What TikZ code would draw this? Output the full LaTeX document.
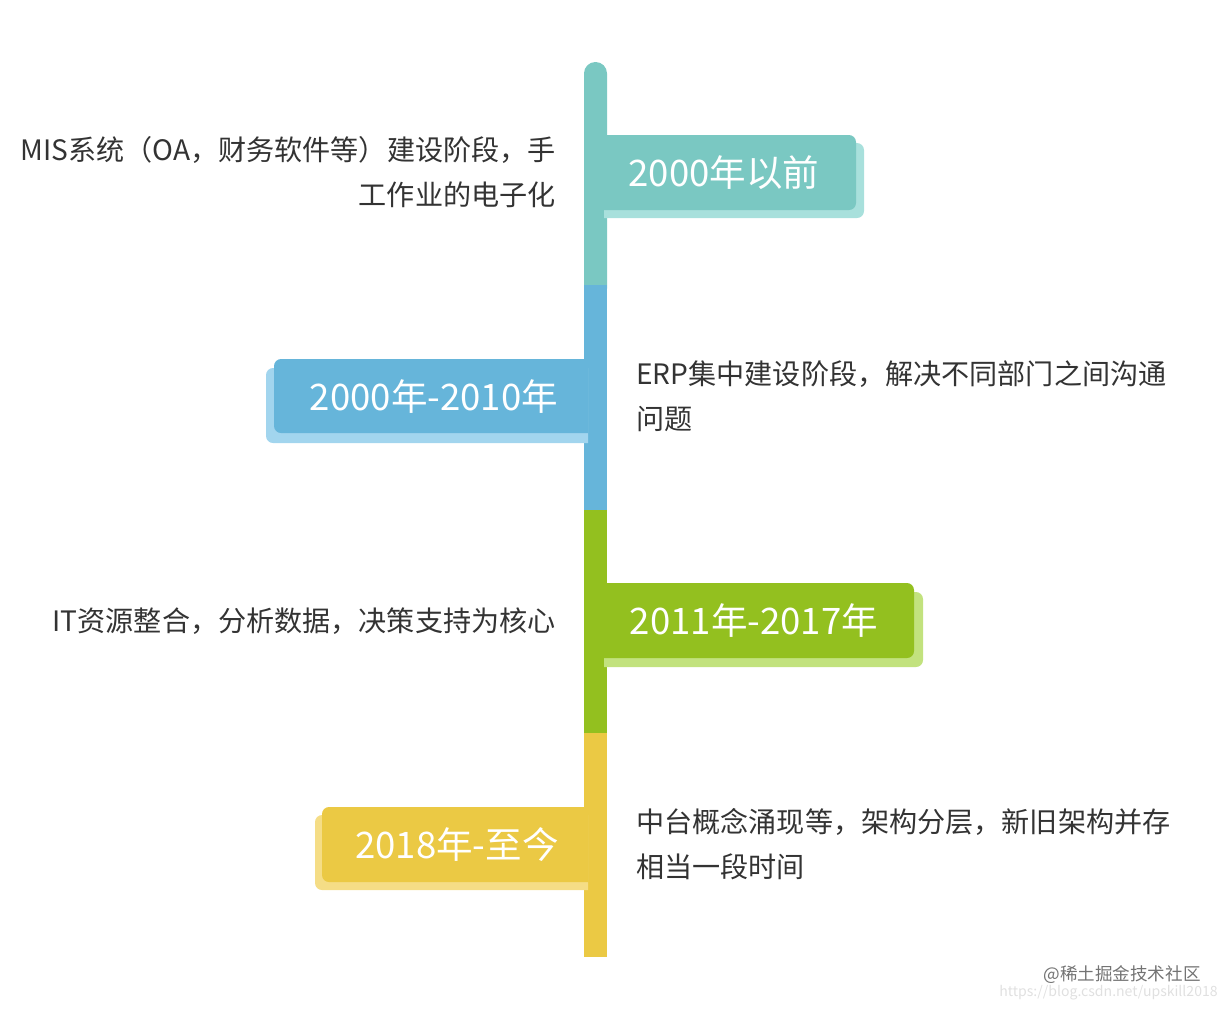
\documentclass[tikz,border=0pt]{standalone}
\usepackage{fontspec}
\setmainfont{Noto Sans CJK SC}
\usetikzlibrary{positioning}

\definecolor{tealbar}{HTML}{7AC8C2}
\definecolor{tealshade}{HTML}{A8E0DC}
\definecolor{bluebar}{HTML}{66B5DA}
\definecolor{blueshade}{HTML}{A2D5EE}
\definecolor{greenbar}{HTML}{93C01F}
\definecolor{greenshade}{HTML}{C2E27E}
\definecolor{yellowbar}{HTML}{EBC944}
\definecolor{yellowshade}{HTML}{F5DD86}
\definecolor{textgray}{HTML}{333333}

\begin{document}
\begin{tikzpicture}[
    x=0.02cm, y=-0.02cm,
    period/.style={text=white, inner sep=0pt,
                   font=\fontsize{20.8}{24}\selectfont},
    descleft/.style={anchor=east, align=right, inner sep=0pt, text=textgray,
                     font=\fontsize{16}{25.6}\selectfont},
    descright/.style={anchor=west, align=left, inner sep=0pt, text=textgray,
                      font=\fontsize{16}{25.6}\selectfont},
    wmark/.style={anchor=east, inner sep=0pt}
]
\useasboundingbox (0,0) rectangle (1228,1012);

% Zeitachse
\fill[tealbar, rounded corners=6.5pt] (584,62) rectangle (607,300);
\fill[bluebar] (584,285) rectangle (607,510);
\fill[greenbar] (584,510) rectangle (607,733);
\fill[yellowbar] (584,733) rectangle (607,957);

% Etiketten rechts
\fill[tealshade] [rounded corners=4pt] (604,143) rectangle (864,218) [sharp corners] (604,143) rectangle (700,218);
\fill[tealbar] [rounded corners=4pt] (604,135) rectangle (856,210) [sharp corners] (604,135) rectangle (700,210);
\fill[greenshade] [rounded corners=4pt] (604,592) rectangle (923,667) [sharp corners] (604,592) rectangle (700,667);
\fill[greenbar] [rounded corners=4pt] (604,583) rectangle (914,658) [sharp corners] (604,583) rectangle (700,658);

% Etiketten links
\fill[blueshade] [rounded corners=4pt] (266,368) rectangle (588,443) [sharp corners] (450,368) rectangle (588,443);
\fill[bluebar] [rounded corners=4pt] (274,359) rectangle (588,433) [sharp corners] (450,359) rectangle (588,433);
\fill[yellowshade] [rounded corners=4pt] (315,815) rectangle (588,890) [sharp corners] (450,815) rectangle (588,890);
\fill[yellowbar] [rounded corners=4pt] (322,807) rectangle (588,882) [sharp corners] (450,807) rectangle (588,882);

% Zeitraeume
\node[period] (p1) at (724,173) {2000年以前};
\node[period] (p2) at (434,397) {2000年-2010年};
\node[period] (p3) at (754,621) {2011年-2017年};
\node[period] (p4) at (457,845) {2018年-至今};

% Beschreibungen
\node[descleft] (d1) at (556,172) {MIS系统（OA，财务软件等）建设阶段，手\\工作业的电子化};
\node[descright] (d2) at (636,396) {ERP集中建设阶段，解决不同部门之间沟通\\问题};
\node[descleft] (d3) at (556,621) {IT资源整合，分析数据，决策支持为核心};
\node[descright] (d4) at (636,844) {中台概念涌现等，架构分层，新旧架构并存\\相当一段时间};

% Wasserzeichen
\node[wmark, text=black!55, font=\fontsize{10}{12}\selectfont] (wm) at (1201,975) {@稀土掘金技术社区};
\node[wmark, text=black!12, font=\fontsize{8}{10}\selectfont] (url) at (1218,993) {https://blog.csdn.net/upskill2018};

\end{tikzpicture}
\end{document}
